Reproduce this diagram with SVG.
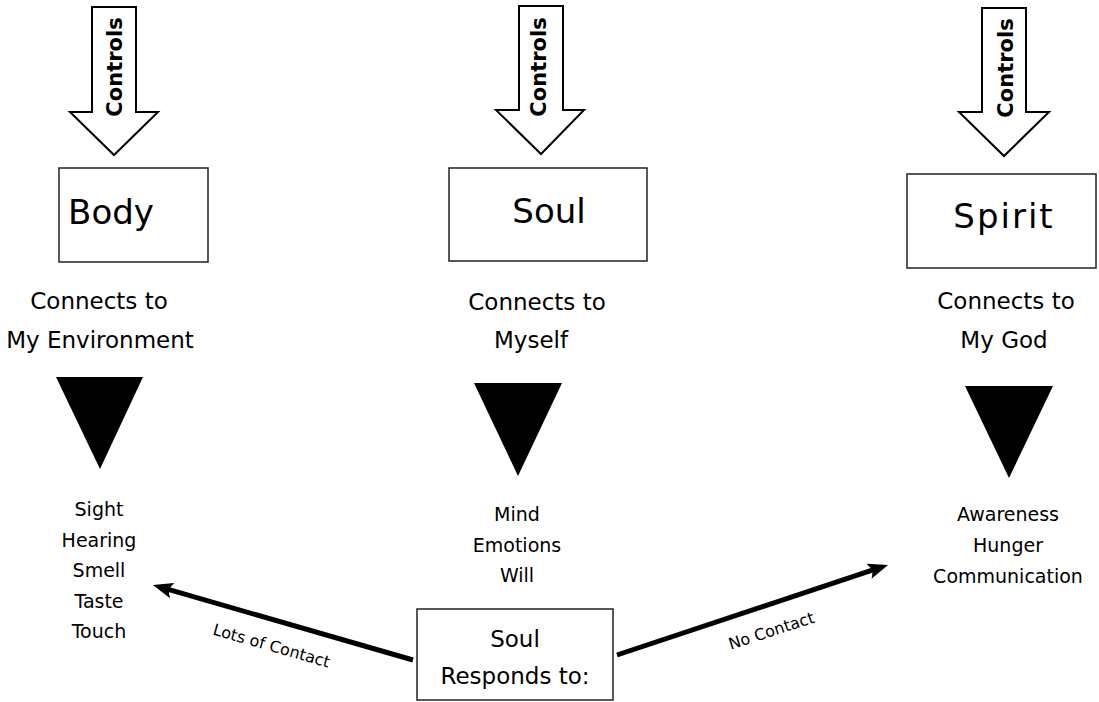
<svg xmlns="http://www.w3.org/2000/svg" width="1099" height="702" viewBox="0 0 1099 702">
<style>
.bg{fill:#fff}
.box{fill:#fff;stroke:#222;stroke-width:1.5}
.ctl{fill:#fff;stroke:#000;stroke-width:2;stroke-linejoin:miter}
.tri{fill:#000}
.t{font-family:"Comic Sans MS","DejaVu Sans",sans-serif;fill:#000;text-anchor:middle}
.big{font-size:34px}
.mid{font-size:23px}
.sm{font-size:19px}
.lbl{font-size:16px}
.ctx{font-family:"DejaVu Sans","Liberation Sans",sans-serif;font-weight:bold;font-size:21px;fill:#000;text-anchor:middle}
.con{fill:none;stroke:#000;stroke-width:5}
</style>
<defs>
<marker id="ah" viewBox="0 0 20 16" refX="5" refY="8" markerWidth="20" markerHeight="16" markerUnits="userSpaceOnUse" orient="auto">
<path d="M0,0 L20,8 L0,16 L4,8 Z" fill="#000"/>
</marker>
</defs>
<rect class="bg" x="0" y="0" width="1099" height="702"/>

<g id="body">
<polygon class="ctl" points="92,7 136,7 136,112 158,112 114,155 70,112 92,112"/>
<text class="ctx" transform="translate(122,67) rotate(-90)">Controls</text>
<rect class="box" x="59" y="168" width="149" height="94"/>
<text class="t big" x="111" y="224">Body</text>
<text class="t mid" x="99" y="309">Connects to</text>
<text class="t mid" x="100" y="348">My Environment</text>
<polygon class="tri" points="56,377 143,377 100,469"/>
<text class="t sm" x="99" y="516">Sight</text>
<text class="t sm" x="99" y="547">Hearing</text>
<text class="t sm" x="99" y="577">Smell</text>
<text class="t sm" x="99" y="608">Taste</text>
<text class="t sm" x="99" y="638">Touch</text>
</g>

<g id="soul">
<polygon class="ctl" points="519,6 563,6 563,110 584,110 541,154 496,110 519,110"/>
<text class="ctx" transform="translate(546,67) rotate(-90)">Controls</text>
<rect class="box" x="449" y="168" width="198" height="93"/>
<text class="t big" x="549" y="223">Soul</text>
<text class="t mid" x="537" y="310">Connects to</text>
<text class="t mid" x="531" y="348">Myself</text>
<polygon class="tri" points="474,383 562,383 518,476"/>
<text class="t sm" x="517" y="521">Mind</text>
<text class="t sm" x="517" y="552">Emotions</text>
<text class="t sm" x="517" y="582">Will</text>
</g>

<g id="spirit">
<polygon class="ctl" points="982,8 1026,8 1026,112 1049,112 1004,156 959,112 982,112"/>
<text class="ctx" transform="translate(1013,68) rotate(-90)">Controls</text>
<rect class="box" x="907" y="174" width="189" height="94"/>
<text class="t big" x="1004" y="228" letter-spacing="2">Spirit</text>
<text class="t mid" x="1006" y="309">Connects to</text>
<text class="t mid" x="1004" y="348">My God</text>
<polygon class="tri" points="965,386 1053,386 1009,478"/>
<text class="t sm" x="1008" y="521">Awareness</text>
<text class="t sm" x="1008" y="552">Hunger</text>
<text class="t sm" x="1008" y="583">Communication</text>
</g>

<g id="responds">
<rect class="box" x="417" y="609" width="196" height="91"/>
<text class="t mid" x="515" y="647">Soul</text>
<text class="t mid" x="515" y="684">Responds to:</text>
</g>

<g id="connectors">
<line class="con" x1="413" y1="660" x2="167.4" y2="589.2" marker-end="url(#ah)"/>
<line class="con" x1="617" y1="655" x2="873.8" y2="569.7" marker-end="url(#ah)"/>
<text class="t lbl" transform="translate(270,651) rotate(16)">Lots of Contact</text>
<text class="t lbl" transform="translate(773,636) rotate(-18)">No Contact</text>
</g>
</svg>
